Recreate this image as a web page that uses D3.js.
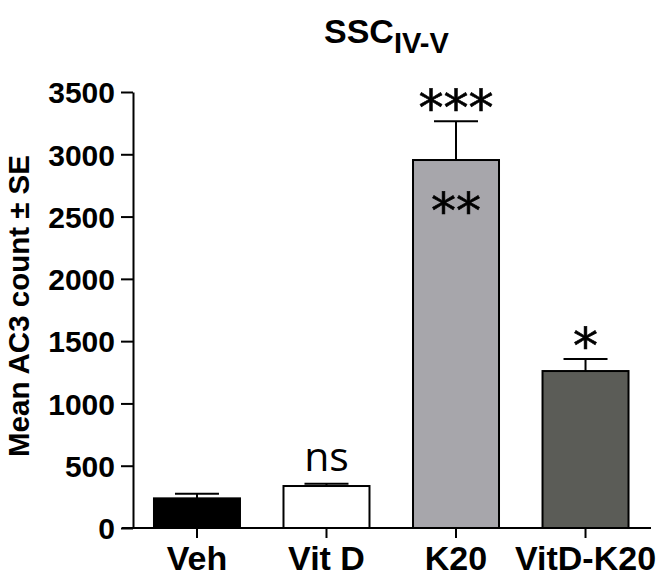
<!DOCTYPE html>
<html>
<head>
<meta charset="utf-8">
<script src="https://cdn.jsdelivr.net/npm/d3@7"></script>
<style>
  body { margin: 0; background: #fff; }
  svg { display: block; }
</style>
</head>
<body>
<svg id="chart" width="664" height="578"></svg>
<script>
const categories = ["Veh", "Vit D", "K20", "VitD-K20"];
const means = [238, 337, 2954, 1260];
const errors = [37, 19, 311, 97];
const fills = ["#000000", "#ffffff", "#a7a6ab", "#5b5c57"];
const yTicks = [0, 500, 1000, 1500, 2000, 2500, 3000, 3500];
const annotations = [
  { cat: "Vit D", text: "ns", pos: "above" },
  { cat: "K20", text: "***", pos: "above" },
  { cat: "K20", text: "**", pos: "inside" },
  { cat: "VitD-K20", text: "*", pos: "above" }
];

const svg = d3.select("#chart");
const x = d3.scaleBand().domain(categories).range([133, 649.5])
  .paddingInner(0.336).paddingOuter(0.162);
const y = d3.scaleLinear().domain([0, 3500]).range([528, 92]);

// Title
const title = svg.append("text")
  .attr("x", 324).attr("y", 43)
  .attr("font-family", "Liberation Sans, Arial, sans-serif")
  .attr("font-weight", "bold").attr("font-size", 34).attr("fill", "#000");
title.append("tspan").text("SSC");
title.append("tspan").attr("dy", 10).attr("font-size", 29).text("IV-V");

// Y axis
const yAxis = svg.append("g").attr("transform", "translate(133,0)")
  .call(d3.axisLeft(y).tickValues(yTicks).tickFormat(d3.format("d"))
    .tickSize(12).tickPadding(6).tickSizeOuter(0));
yAxis.select(".domain").attr("stroke", "#000").attr("stroke-width", 2);
yAxis.selectAll(".tick line").attr("stroke", "#000").attr("stroke-width", 2);
yAxis.selectAll(".tick text")
  .attr("font-family", "Liberation Sans, Arial, sans-serif")
  .attr("font-weight", "bold").attr("font-size", 30).attr("fill", "#000")
  .attr("dy", "0.36em");

// Y axis title
svg.append("text")
  .attr("transform", "translate(29,306) rotate(-90)")
  .attr("text-anchor", "middle")
  .attr("font-family", "Liberation Sans, Arial, sans-serif")
  .attr("font-weight", "bold").attr("font-size", 29.5).attr("fill", "#000")
  .text("Mean AC3 count \u00B1 SE");

// Bars
const bars = svg.append("g");
categories.forEach((c, i) => {
  bars.append("rect")
    .attr("x", x(c)).attr("y", y(means[i]))
    .attr("width", x.bandwidth()).attr("height", y(0) - y(means[i]))
    .attr("fill", fills[i]).attr("stroke", "#000").attr("stroke-width", 2);
});

// Error bars (upper only)
const eb = svg.append("g").attr("stroke", "#000").attr("stroke-width", 2);
categories.forEach((c, i) => {
  const cx = x(c) + x.bandwidth() / 2;
  const top = y(means[i] + errors[i]);
  eb.append("line").attr("x1", cx).attr("x2", cx).attr("y1", y(means[i])).attr("y2", top);
  eb.append("line").attr("x1", cx - 22).attr("x2", cx + 22).attr("y1", top).attr("y2", top);
});

// X axis
const xAxisG = svg.append("g").attr("transform", "translate(0,528)");
xAxisG.append("line").attr("x1", 122).attr("x2", 651).attr("y1", 0).attr("y2", 0)
  .attr("stroke", "#000").attr("stroke-width", 2);
categories.forEach((c) => {
  const cx = x(c) + x.bandwidth() / 2;
  xAxisG.append("line").attr("x1", cx).attr("x2", cx).attr("y1", 0).attr("y2", 10)
    .attr("stroke", "#000").attr("stroke-width", 2);
  xAxisG.append("text").attr("x", cx).attr("y", 42).attr("text-anchor", "middle")
    .attr("font-family", "Liberation Sans, Arial, sans-serif")
    .attr("font-weight", "bold").attr("font-size", 34).attr("fill", "#000")
    .text(c);
});

// Annotations
annotations.forEach(a => {
  const i = categories.indexOf(a.cat);
  const cx = x(a.cat) + x.bandwidth() / 2;
  if (a.text === "ns") {
    svg.append("text").attr("x", cx).attr("y", y(means[i] + errors[i]) - 13)
      .attr("text-anchor", "middle")
      .attr("font-family", "Open Sans, sans-serif")
      .attr("font-size", 41).attr("fill", "#000").text(a.text);
  } else {
    const baseY = a.pos === "above" ? y(means[i] + errors[i]) + 4 : y(means[i]) + 68;
    svg.append("text").attr("x", cx).attr("y", baseY)
      .attr("text-anchor", "middle")
      .attr("font-family", "DejaVu Sans, sans-serif")
      .attr("font-size", 50).attr("fill", "#000")
      .attr("stroke", "#000").attr("stroke-width", 0.6)
      .text(a.text);
  }
});
</script>
</body>
</html>
